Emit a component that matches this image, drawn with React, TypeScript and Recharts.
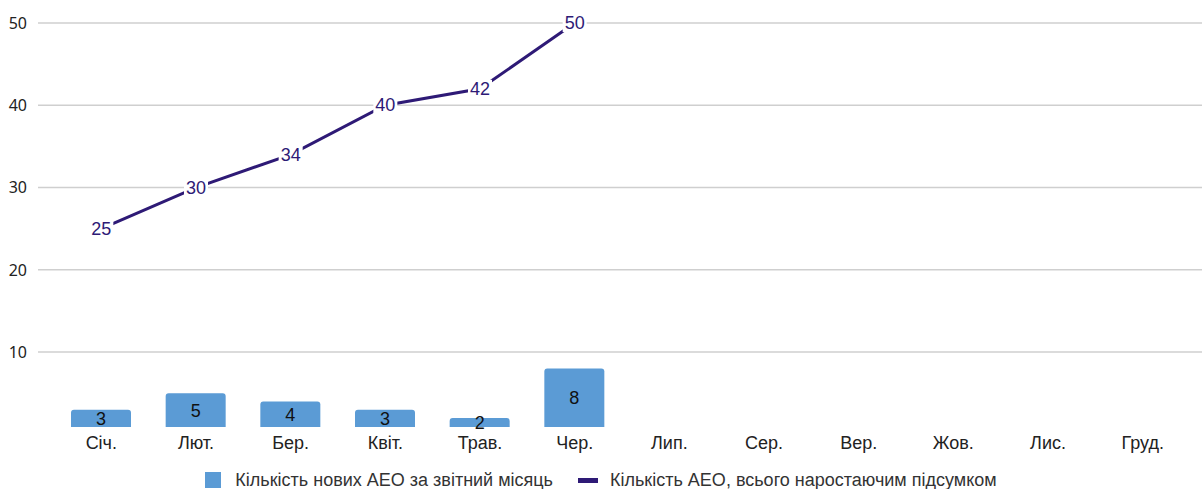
import React from "react";
import {
  ComposedChart,
  Bar,
  Line,
  XAxis,
  YAxis,
  CartesianGrid,
  Legend,
  LabelList,
} from "recharts";

const months = [
  "Січ.",
  "Лют.",
  "Бер.",
  "Квіт.",
  "Трав.",
  "Чер.",
  "Лип.",
  "Сер.",
  "Вер.",
  "Жов.",
  "Лис.",
  "Груд.",
];
const newAeo = [3, 5, 4, 3, 2, 8, null, null, null, null, null, null];
const totalAeo = [25, 30, 34, 40, 42, 50, null, null, null, null, null, null];
const yTicks = [10, 20, 30, 40, 50];
const Y_MIN = 0.9;
const Y_MAX = 50;

const BAR_NAME = "Кількість нових АЕО за звітний місяць";
const LINE_NAME = "Кількість АЕО, всього наростаючим підсумком";
const BAR_COLOR = "#5B9BD5";
const LINE_COLOR = "#2E1A76";
const FONT = "'Liberation Sans', Arial, sans-serif";

const data = months.map((m, i) => ({
  month: m,
  newAeo: newAeo[i],
  totalAeo: totalAeo[i],
}));

// grid only at the labelled ticks (no line at the bottom edge)
const gridRows = (props: any) => {
  const off = props.offset || {};
  const top = off.top ?? 23;
  const h = off.height ?? 404;
  return yTicks.map((t) => top + ((Y_MAX - t) / (Y_MAX - Y_MIN)) * h);
};

const LineLabel = (props: any) => {
  const { x, y, value } = props;
  if (value == null) return null;
  const w = String(value).length * 10 + 4;
  return (
    <g>
      <rect x={x - w / 2} y={y - 9} width={w} height={18} fill="#fff" />
      <text
        x={x}
        y={y}
        textAnchor="middle"
        dominantBaseline="central"
        fill={LINE_COLOR}
        fontSize={18}
        fontFamily={FONT}
      >
        {value}
      </text>
    </g>
  );
};

const LegendContent = () => (
  <div
    style={{
      display: "flex",
      justifyContent: "center",
      alignItems: "center",
      height: 30,
      paddingTop: 16,
      boxSizing: "border-box",
      fontFamily: FONT,
      fontSize: 18,
      color: "#333",
    }}
  >
    <span
      style={{ width: 16, height: 16, background: BAR_COLOR, marginRight: 14 }}
    />
    <span style={{ marginRight: 25 }}>{BAR_NAME}</span>
    <span
      style={{ width: 20, height: 5, background: LINE_COLOR, marginRight: 12 }}
    />
    <span>{LINE_NAME}</span>
  </div>
);

export default function App() {
  return (
    <div style={{ position: "absolute", left: 0, top: 0, background: "#fff" }}>
      <ComposedChart
        width={1202}
        height={489}
        data={data}
        margin={{ top: 23, right: 0, bottom: 2, left: 0 }}
      >
        <CartesianGrid
          vertical={false}
          stroke="#cfcfcf"
          strokeWidth={1.5}
          horizontalCoordinatesGenerator={gridRows}
        />
        <XAxis
          dataKey="month"
          axisLine={false}
          tickLine={false}
          tickSize={0}
          tickMargin={9}
          height={30}
          padding={{ left: 16, right: 12 }}
          interval={0}
          tick={{ fill: "#222", fontSize: 18, fontFamily: FONT }}
        />
        <YAxis
          domain={[Y_MIN, Y_MAX]}
          ticks={yTicks}
          allowDataOverflow
          axisLine={false}
          tickLine={false}
          tickSize={0}
          tickMargin={11}
          width={38}
          tick={{ fill: "#222", fontSize: 16, fontFamily: "'Noto Sans', sans-serif" }}
        />
        <Legend
          verticalAlign="bottom"
          height={30}
          content={<LegendContent />}
        />
        <Bar
          dataKey="newAeo"
          name={BAR_NAME}
          fill={BAR_COLOR}
          barSize={60}
          radius={[3, 3, 0, 0]}
          isAnimationActive={false}
        >
          <LabelList
            dataKey="newAeo"
            position="center"
            fill="#111"
            fontSize={18}
            fontFamily={FONT}
          />
        </Bar>
        <Line
          dataKey="totalAeo"
          name={LINE_NAME}
          stroke={LINE_COLOR}
          strokeWidth={3}
          dot={false}
          activeDot={false}
          isAnimationActive={false}
        >
          <LabelList dataKey="totalAeo" content={<LineLabel />} />
        </Line>
      </ComposedChart>
    </div>
  );
}
